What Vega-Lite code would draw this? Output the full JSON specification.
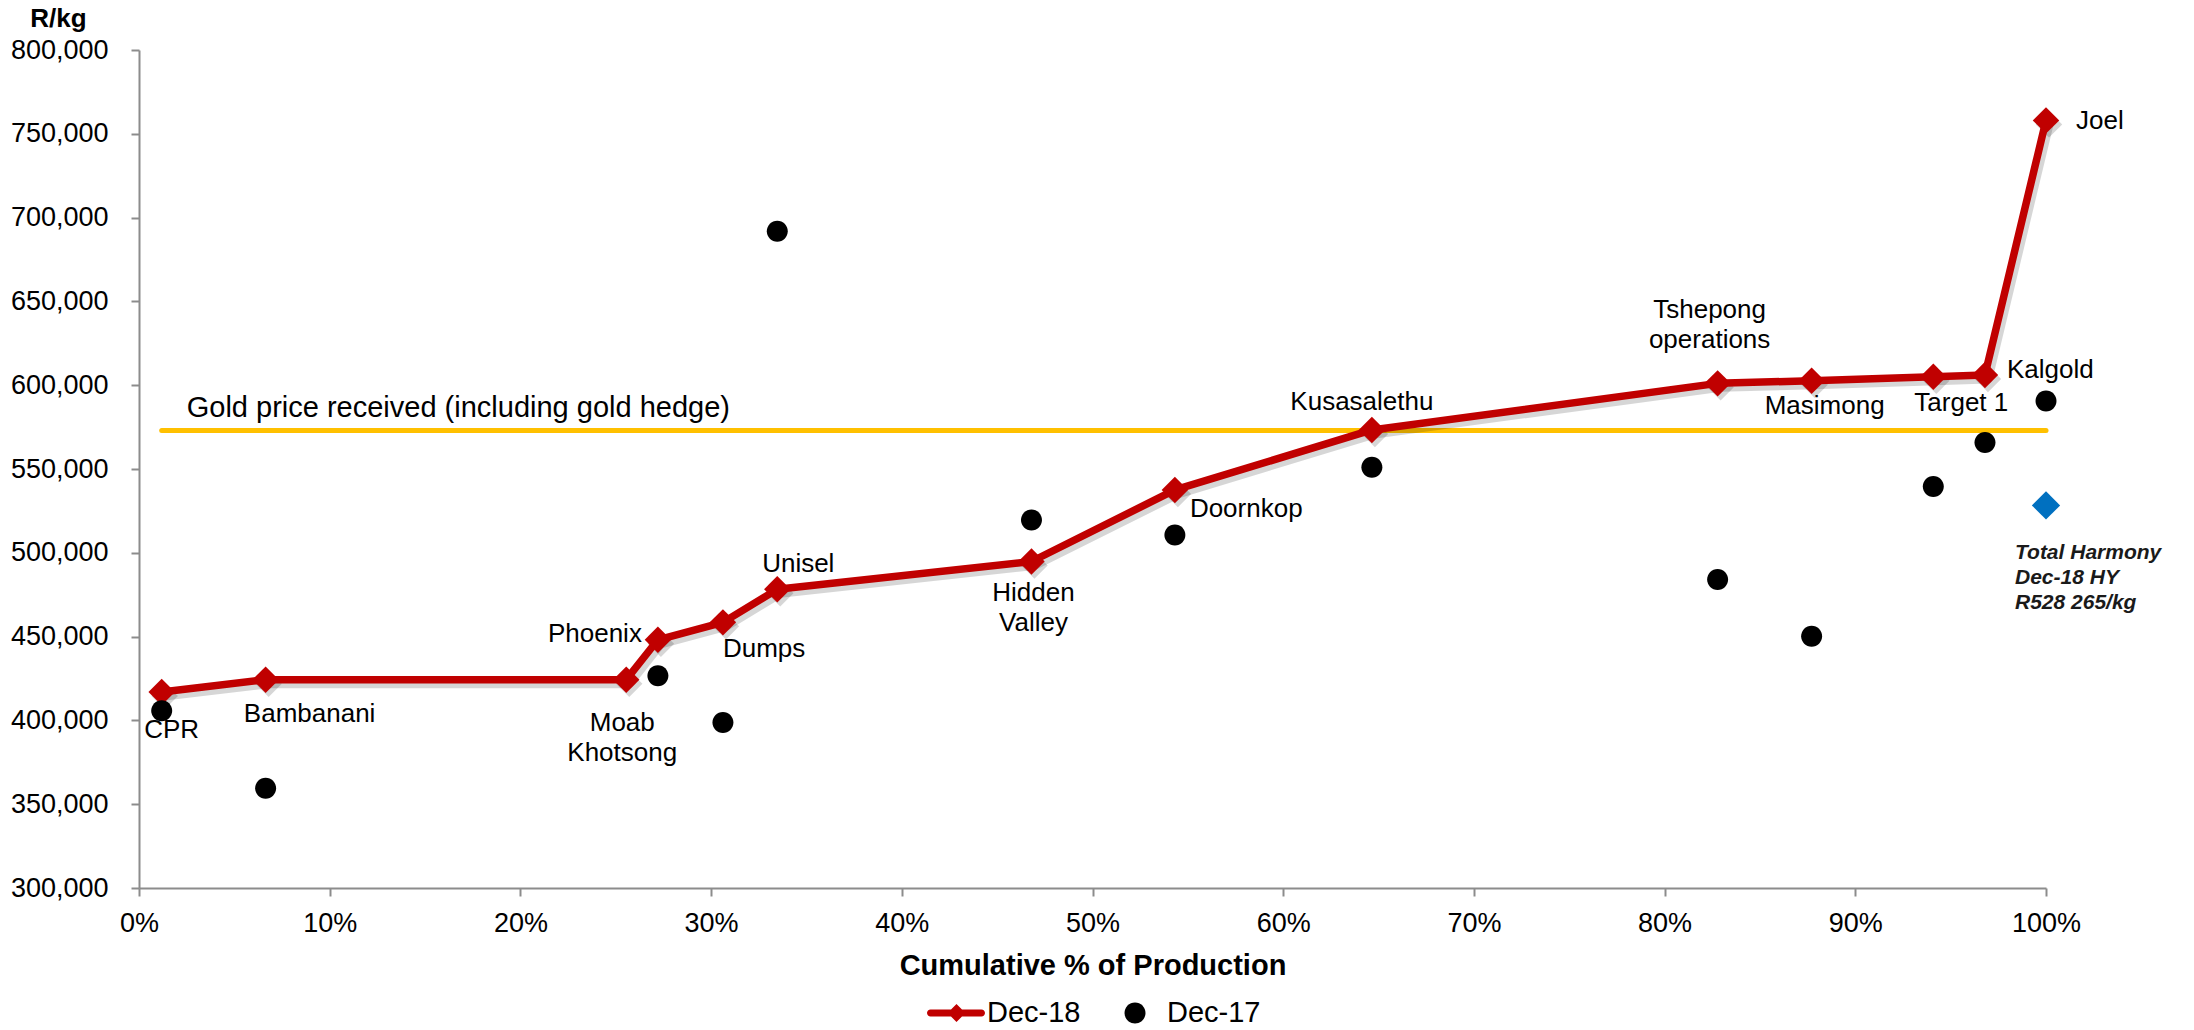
{
  "$schema": "https://vega.github.io/schema/vega-lite/v6.json",
  "width": 1907,
  "height": 838,
  "autosize": {"type": "none"},
  "padding": {"left": 139, "top": 50, "right": 148, "bottom": 142},
  "background": "white",
  "config": {
    "view": {"stroke": null},
    "font": "Liberation Sans",
    "text": {"font": "Liberation Sans", "fontSize": 26, "color": "#000000", "baseline": "alphabetic"}
  },
  "datasets": {
    "dec18": [
      {"mine": "CPR", "pct": 1.19, "rkg": 417000},
      {"mine": "Bambanani", "pct": 6.64, "rkg": 424300},
      {"mine": "Moab Khotsong", "pct": 25.55, "rkg": 424300},
      {"mine": "Phoenix", "pct": 27.21, "rkg": 448100},
      {"mine": "Dumps", "pct": 30.62, "rkg": 458500},
      {"mine": "Unisel", "pct": 33.47, "rkg": 478200},
      {"mine": "Hidden Valley", "pct": 46.8, "rkg": 494800},
      {"mine": "Doornkop", "pct": 54.32, "rkg": 537500},
      {"mine": "Kusasalethu", "pct": 64.65, "rkg": 573300},
      {"mine": "Tshepong operations", "pct": 82.78, "rkg": 601100},
      {"mine": "Masimong", "pct": 87.71, "rkg": 602700},
      {"mine": "Target 1", "pct": 94.09, "rkg": 605100},
      {"mine": "Kalgold", "pct": 96.8, "rkg": 606100},
      {"mine": "Joel", "pct": 100, "rkg": 758000}
    ],
    "dec17": [
      {"series": "Dec-17", "pct": 1.19, "rkg": 405800},
      {"series": "Dec-17", "pct": 6.64, "rkg": 359500},
      {"series": "Dec-17", "pct": 27.21, "rkg": 426600},
      {"series": "Dec-17", "pct": 30.62, "rkg": 398700},
      {"series": "Dec-17", "pct": 33.47, "rkg": 691800},
      {"series": "Dec-17", "pct": 46.8, "rkg": 519500},
      {"series": "Dec-17", "pct": 54.32, "rkg": 510600},
      {"series": "Dec-17", "pct": 64.65, "rkg": 551000},
      {"series": "Dec-17", "pct": 82.78, "rkg": 484000},
      {"series": "Dec-17", "pct": 87.71, "rkg": 450200},
      {"series": "Dec-17", "pct": 94.09, "rkg": 539600},
      {"series": "Dec-17", "pct": 96.8, "rkg": 565800},
      {"series": "Dec-17", "pct": 100, "rkg": 590500}
    ],
    "gold": [
      {"pct": 1.19, "rkg": 573000},
      {"pct": 100, "rkg": 573000}
    ],
    "total": [
      {"pct": 100, "rkg": 528265}
    ]
  },
  "encoding": {
    "x": {
      "field": "pct",
      "type": "quantitative",
      "scale": {"domain": [0, 100], "nice": false, "zero": false},
      "axis": {
        "values": [0, 10, 20, 30, 40, 50, 60, 70, 80, 90, 100],
        "labelExpr": "datum.value + '%'",
        "labelFontSize": 27,
        "labelColor": "#000000",
        "labelPadding": 14,
        "labelFlush": false,
        "tickSize": 8,
        "tickWidth": 2,
        "tickColor": "#8c8c8c",
        "domainColor": "#8c8c8c",
        "domainWidth": 2,
        "grid": false,
        "title": "Cumulative % of Production",
        "titleFontSize": 29,
        "titleFontWeight": "bold",
        "titleColor": "#000000",
        "titleBaseline": "alphabetic",
        "titleY": 86
      }
    },
    "y": {
      "field": "rkg",
      "type": "quantitative",
      "scale": {"domain": [300000, 800000], "nice": false, "zero": false},
      "axis": {
        "values": [300000, 350000, 400000, 450000, 500000, 550000, 600000, 650000, 700000, 750000, 800000],
        "format": ",.0f",
        "labelFontSize": 27,
        "labelColor": "#000000",
        "labelPadding": 23,
        "labelFlush": false,
        "tickSize": 8,
        "tickWidth": 2,
        "tickColor": "#8c8c8c",
        "domainColor": "#8c8c8c",
        "domainWidth": 2,
        "grid": false,
        "title": "R/kg",
        "titleFontSize": 26,
        "titleFontWeight": "bold",
        "titleColor": "#000000",
        "titleAngle": 0,
        "titleAlign": "center",
        "titleBaseline": "alphabetic",
        "titleX": -81,
        "titleY": -24
      }
    }
  },
  "layer": [
    {
      "data": {"name": "gold"},
      "mark": {"type": "line", "color": "#FFC000", "strokeWidth": 5, "strokeCap": "round"},
      "encoding": {}
    },
    {
      "data": {"name": "gold"},
      "transform": [{"filter": "datum.pct < 50"}],
      "mark": {"type": "text", "text": "Gold price received (including gold hedge)", "fontSize": 29, "align": "left", "dx": 25, "dy": -13},
      "encoding": {}
    },
    {
      "data": {"name": "dec18"},
      "mark": {"type": "line", "color": "#000000", "opacity": 0.16, "strokeWidth": 9, "strokeJoin": "round", "strokeCap": "round", "xOffset": 3, "yOffset": 4},
      "encoding": {}
    },
    {
      "data": {"name": "dec18"},
      "mark": {"type": "point", "shape": "diamond", "size": 700, "filled": true, "color": "#000000", "opacity": 0.16, "xOffset": 3, "yOffset": 4},
      "encoding": {}
    },
    {
      "data": {"name": "dec18"},
      "mark": {"type": "line", "color": "#C00000", "strokeWidth": 7.5, "strokeJoin": "round", "strokeCap": "round"},
      "encoding": {}
    },
    {
      "data": {"name": "dec18"},
      "mark": {"type": "point", "shape": "diamond", "size": 700, "filled": true, "color": "#C00000", "opacity": 1},
      "encoding": {}
    },
    {
      "data": {"name": "dec17"},
      "mark": {"type": "point", "filled": true, "size": 3600, "opacity": 1, "strokeWidth": 0},
      "encoding": {
        "color": {
          "field": "series",
          "type": "nominal",
          "scale": {"domain": ["Dec-18", "Dec-17"], "range": ["#C00000", "#000000"]},
          "legend": {
            "orient": "none",
            "legendX": 786,
            "legendY": 933,
            "direction": "horizontal",
            "title": null,
            "symbolSize": 3600,
            "symbolStrokeWidth": 0,
            "labelFontSize": 29,
            "labelColor": "#000000",
            "labelOffset": 2,
            "columnPadding": 24
          }
        },
        "shape": {
          "field": "series",
          "type": "nominal",
          "scale": {
            "domain": ["Dec-18", "Dec-17"],
            "range": [
              "M-0.8163,-0.1167L-0.133,-0.1167L0.05,-0.3L0.233,-0.1167L0.8833,-0.1167C0.9477,-0.1167,1,-0.0644,1,0C1,0.0644,0.9477,0.1167,0.8833,0.1167L0.233,0.1167L0.05,0.3L-0.133,0.1167L-0.8163,0.1167C-0.8807,0.1167,-0.933,0.0644,-0.933,0C-0.933,-0.0644,-0.8807,-0.1167,-0.8163,-0.1167Z",
              "M0.35,0C0.35,0.1933,0.1933,0.35,0,0.35C-0.1933,0.35,-0.35,0.1933,-0.35,0C-0.35,-0.1933,-0.1933,-0.35,0,-0.35C0.1933,-0.35,0.35,-0.1933,0.35,0Z"
            ]
          },
          "legend": {
            "orient": "none",
            "legendX": 786,
            "legendY": 933,
            "direction": "horizontal",
            "title": null,
            "symbolSize": 3600,
            "symbolStrokeWidth": 0,
            "labelFontSize": 29,
            "labelColor": "#000000",
            "labelOffset": 2,
            "columnPadding": 24
          }
        }
      }
    },
    {
      "data": {"name": "total"},
      "mark": {"type": "point", "shape": "diamond", "size": 800, "filled": true, "color": "#0070C0", "opacity": 1},
      "encoding": {}
    },
    {
      "data": {"name": "total"},
      "mark": {"type": "text", "text": ["Total Harmony", "Dec-18 HY", "R528 265/kg"], "fontSize": 21, "fontWeight": "bold", "fontStyle": "italic", "color": "#1a1a1a", "align": "left", "dx": -31, "dy": 54, "lineHeight": 25},
      "encoding": {}
    },
    {
      "data": {"name": "dec18"},
      "transform": [{"filter": {"field": "mine", "equal": "CPR"}}],
      "mark": {"type": "text", "align": "center", "dx": 10, "dy": 46},
      "encoding": {"text": {"field": "mine", "type": "nominal"}}
    },
    {
      "data": {"name": "dec18"},
      "transform": [{"filter": {"field": "mine", "equal": "Bambanani"}}],
      "mark": {"type": "text", "align": "center", "dx": 44, "dy": 42},
      "encoding": {"text": {"field": "mine", "type": "nominal"}}
    },
    {
      "data": {"name": "dec18"},
      "transform": [{"filter": {"field": "mine", "equal": "Moab Khotsong"}}],
      "mark": {"type": "text", "align": "center", "dx": -4, "dy": 51, "lineBreak": " ", "lineHeight": 30},
      "encoding": {"text": {"field": "mine", "type": "nominal"}}
    },
    {
      "data": {"name": "dec18"},
      "transform": [{"filter": {"field": "mine", "equal": "Phoenix"}}],
      "mark": {"type": "text", "align": "right", "dx": -16, "dy": 2},
      "encoding": {"text": {"field": "mine", "type": "nominal"}}
    },
    {
      "data": {"name": "dec18"},
      "transform": [{"filter": {"field": "mine", "equal": "Dumps"}}],
      "mark": {"type": "text", "align": "left", "dx": 0, "dy": 35},
      "encoding": {"text": {"field": "mine", "type": "nominal"}}
    },
    {
      "data": {"name": "dec18"},
      "transform": [{"filter": {"field": "mine", "equal": "Unisel"}}],
      "mark": {"type": "text", "align": "center", "dx": 21, "dy": -17},
      "encoding": {"text": {"field": "mine", "type": "nominal"}}
    },
    {
      "data": {"name": "dec18"},
      "transform": [{"filter": {"field": "mine", "equal": "Hidden Valley"}}],
      "mark": {"type": "text", "align": "center", "dx": 2, "dy": 39, "lineBreak": " ", "lineHeight": 30},
      "encoding": {"text": {"field": "mine", "type": "nominal"}}
    },
    {
      "data": {"name": "dec18"},
      "transform": [{"filter": {"field": "mine", "equal": "Doornkop"}}],
      "mark": {"type": "text", "align": "left", "dx": 15, "dy": 27},
      "encoding": {"text": {"field": "mine", "type": "nominal"}}
    },
    {
      "data": {"name": "dec18"},
      "transform": [{"filter": {"field": "mine", "equal": "Kusasalethu"}}],
      "mark": {"type": "text", "align": "center", "dx": -10, "dy": -20},
      "encoding": {"text": {"field": "mine", "type": "nominal"}}
    },
    {
      "data": {"name": "dec18"},
      "transform": [{"filter": {"field": "mine", "equal": "Tshepong operations"}}],
      "mark": {"type": "text", "align": "center", "dx": -8, "dy": -65, "lineBreak": " ", "lineHeight": 30},
      "encoding": {"text": {"field": "mine", "type": "nominal"}}
    },
    {
      "data": {"name": "dec18"},
      "transform": [{"filter": {"field": "mine", "equal": "Masimong"}}],
      "mark": {"type": "text", "align": "center", "dx": 13, "dy": 33},
      "encoding": {"text": {"field": "mine", "type": "nominal"}}
    },
    {
      "data": {"name": "dec18"},
      "transform": [{"filter": {"field": "mine", "equal": "Target 1"}}],
      "mark": {"type": "text", "align": "center", "dx": 28, "dy": 34},
      "encoding": {"text": {"field": "mine", "type": "nominal"}}
    },
    {
      "data": {"name": "dec18"},
      "transform": [{"filter": {"field": "mine", "equal": "Kalgold"}}],
      "mark": {"type": "text", "align": "left", "dx": 22, "dy": 3},
      "encoding": {"text": {"field": "mine", "type": "nominal"}}
    },
    {
      "data": {"name": "dec18"},
      "transform": [{"filter": {"field": "mine", "equal": "Joel"}}],
      "mark": {"type": "text", "align": "left", "dx": 30, "dy": 9},
      "encoding": {"text": {"field": "mine", "type": "nominal"}}
    }
  ]
}
